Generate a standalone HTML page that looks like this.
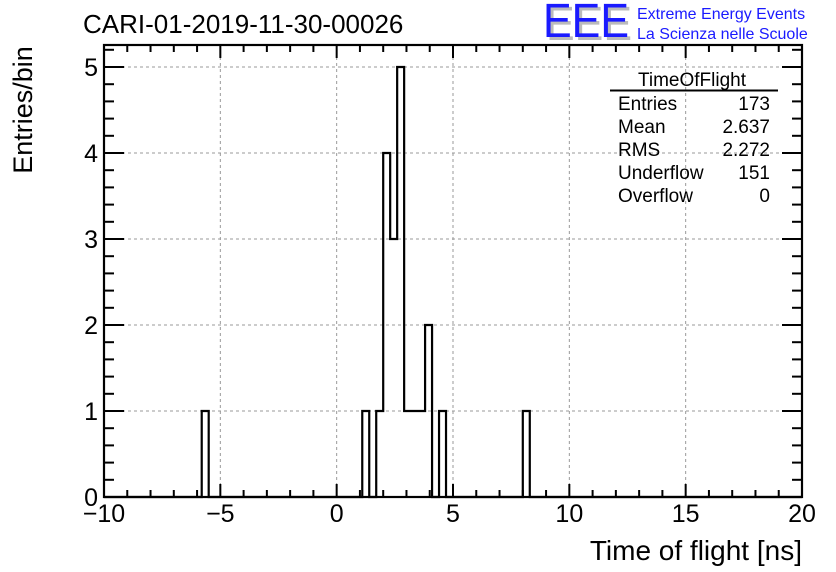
<!DOCTYPE html>
<html><head><meta charset="utf-8"><style>
body{margin:0;background:#fff}
svg{display:block;font-family:"Liberation Sans",sans-serif}
</style></head><body>
<svg id="c" width="836" height="572" viewBox="0 0 836 572">
<rect width="836" height="572" fill="#fff"/>
<g id="grid"></g>
<g id="hist"></g>
<g id="axes"></g>
<text x="83" y="33" font-size="26">CARI-01-2019-11-30-00026</text>
<g>
<text x="546" y="40" font-size="48" fill="#bbb" textLength="86" lengthAdjust="spacingAndGlyphs">EEE</text>
<text x="543" y="37" font-size="48" fill="#1a1aff" textLength="86" lengthAdjust="spacingAndGlyphs">EEE</text>
<text x="637" y="19" font-size="16" fill="#1a1aff">Extreme Energy Events</text>
<text x="637" y="39" font-size="16" fill="#1a1aff">La Scienza nelle Scuole</text>
</g>
<text transform="translate(32,110) rotate(-90)" font-size="27" text-anchor="middle">Entries/bin</text>
<text x="802" y="560" font-size="28" text-anchor="end">Time of flight [ns]</text>
<g font-size="19">
<text x="692" y="86" text-anchor="middle">TimeOfFlight</text>
<line x1="610" y1="90.5" x2="778" y2="90.5" stroke="#000" stroke-width="2"/>
<text x="618" y="110">Entries</text><text x="770" y="110" text-anchor="end">173</text>
<text x="618" y="133">Mean</text><text x="770" y="133" text-anchor="end">2.637</text>
<text x="618" y="156">RMS</text><text x="770" y="156" text-anchor="end">2.272</text>
<text x="618" y="179">Underflow</text><text x="770" y="179" text-anchor="end">151</text>
<text x="618" y="202">Overflow</text><text x="770" y="202" text-anchor="end">0</text>
</g>
</svg>
<script>
const binLow = [-5.8, 1.1, 1.7, 2.0, 2.3, 2.6, 2.9, 3.2, 3.5, 3.8, 4.4, 8.0];
const binCounts = [1, 1, 1, 4, 3, 5, 1, 1, 1, 2, 1, 1];
const binWidth = 0.3;
const xTicks = [-10, -5, 0, 5, 10, 15, 20];
const xTickLabels = ["\u221210", "\u22125", "0", "5", "10", "15", "20"];
const yTicks = [0, 1, 2, 3, 4, 5];
const X0=104, X1=802, Y0=497, YTOP=45;
const xs = v => X0 + (v + 10) / 30 * (X1 - X0);
const ys = v => Y0 - v * 86;
const NS='http://www.w3.org/2000/svg';
function mk(tag, attrs, parent){const e=document.createElementNS(NS,tag);for(const k in attrs)e.setAttribute(k,attrs[k]);parent.appendChild(e);return e;}
const grid=document.getElementById('grid'), hist=document.getElementById('hist'), axes=document.getElementById('axes');
xTicks.forEach(t=>{ if(t>-10&&t<20){ const l=mk('line',{x1:xs(t),x2:xs(t),y1:YTOP,y2:Y0,stroke:'#999','stroke-dasharray':'3,3'},grid);

}});
yTicks.forEach(t=>{ if(t>0){ const l=mk('line',{x1:X0,x2:X1,y1:ys(t),y2:ys(t),stroke:'#999','stroke-dasharray':'3,3'},grid);

}});
const nb=Math.round(30/binWidth);
const counts=new Array(nb).fill(0);
binLow.forEach((b,i)=>{ const k=Math.round((b+10)/binWidth); if(k>=0&&k<nb) counts[k]+=binCounts[i]; });
let d='M'+X0+' '+ys(counts[0]);
for(let k=0;k<nb;k++){
  const xl=xs(-10+k*binWidth), xr=xs(-10+(k+1)*binWidth);
  d+=' L'+xl+' '+ys(counts[k])+' L'+xr+' '+ys(counts[k]);
}
const p=mk('path',{d:d,fill:'none',stroke:'#000','stroke-width':2.2},hist);


const fr=mk('rect',{x:X0,y:YTOP,width:X1-X0,height:Y0-YTOP,fill:'none',stroke:'#000','stroke-width':2.2},axes);


for(let v=-10; v<=20; v++){ const major=(v%5===0); const len=major?13:7;
 mk('line',{x1:xs(v),x2:xs(v),y1:Y0,y2:Y0-len,stroke:'#000','stroke-width':2},axes);
 mk('line',{x1:xs(v),x2:xs(v),y1:YTOP,y2:YTOP+len,stroke:'#000','stroke-width':2},axes);}
xTicks.forEach((t,i)=>{ const tx=mk('text',{x:xs(t),y:522,'font-size':25,'text-anchor':'middle'},axes); tx.textContent=xTickLabels[i];

});
for(let k=0;k<=27;k++){ const v=k*0.2; const y=ys(v); if(y<YTOP) break; const major=(k%5===0); const len=major?20:10;
 mk('line',{x1:X0,x2:X0+len,y1:y,y2:y,stroke:'#000','stroke-width':2},axes);
 mk('line',{x1:X1,x2:X1-len,y1:y,y2:y,stroke:'#000','stroke-width':2},axes);}
yTicks.forEach(t=>{ const tx=mk('text',{x:98,y:ys(t)+9,'font-size':25,'text-anchor':'end'},axes); tx.textContent=String(t);

});
</script>
</body></html>
